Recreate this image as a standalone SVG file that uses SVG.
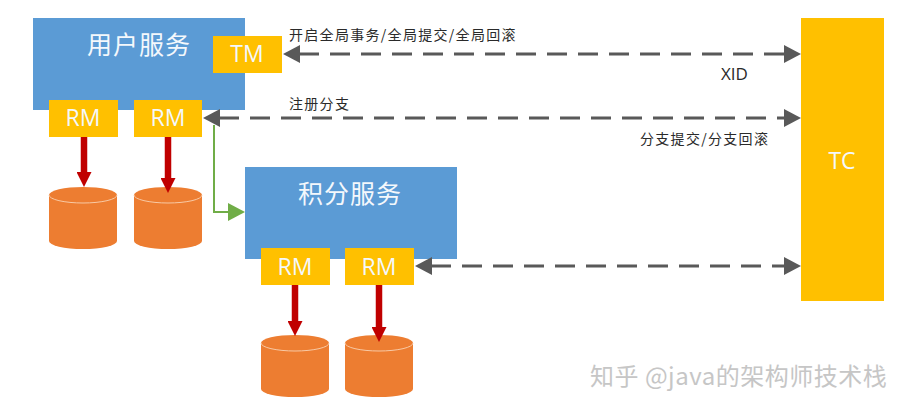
<svg xmlns="http://www.w3.org/2000/svg" width="910" height="417" viewBox="0 0 910 417">
  <style>
    text { font-family: "Noto Sans CJK SC", "Open Sans", "Noto Sans", sans-serif; }
    .svc { fill: #5b9bd5; }
    .gold { fill: #ffc000; }
    .light { fill: #f4f8fc; text-anchor: middle; }
    .title { font-size: 25px; letter-spacing: 1px; }
    .tag { font-size: 23px; font-family: "Open Sans", "Noto Sans", sans-serif; }
    .note { font-size: 14px; letter-spacing: 1.3px; fill: #2a2a2a; }
    .xid { font-size: 17px; letter-spacing: 0; font-family: "Open Sans", "Noto Sans", sans-serif; }
    .dash { fill: none; stroke: #595959; stroke-width: 3; stroke-dasharray: 20 11; }
    .red { fill: none; stroke: #c00000; stroke-width: 6.5; }
    .db { fill: #ed7d31; }
    .rim { fill: none; stroke: #f8c9a4; stroke-width: 1; }
    .mark { font-size: 24px; letter-spacing: .5px; fill: #c6c6c6; }
  </style>
  <defs>
    <marker id="head" markerUnits="userSpaceOnUse" markerWidth="17" markerHeight="18" refX="1" refY="9" orient="auto-start-reverse">
      <path d="M0 0 L17 9 L0 18 Z" fill="#595959"/>
    </marker>
    <marker id="redhead" markerUnits="userSpaceOnUse" markerWidth="15" markerHeight="15" refX="1" refY="7.5" orient="auto">
      <path d="M0 0 L15 7.5 L0 15 Z" fill="#c00000"/>
    </marker>
    <marker id="greenhead" markerUnits="userSpaceOnUse" markerWidth="17" markerHeight="18" refX="1" refY="9" orient="auto">
      <path d="M0 0 L17 9 L0 18 Z" fill="#70ad47"/>
    </marker>
    <g id="cyl">
      <path class="db" d="M0 8 A34 8 0 0 1 68 8 V54 A34 8 0 0 1 0 54 Z"/>
      <path class="rim" d="M0 8 A34 8 0 0 0 68 8"/>
    </g>
  </defs>

  <rect width="910" height="417" fill="#ffffff"/>

  <g id="user-service">
    <rect class="svc" x="33" y="18" width="212" height="92"/>
    <text class="light title" x="139" y="54">用户服务</text>
  </g>
  <g id="points-service">
    <rect class="svc" x="245" y="167" width="212" height="92"/>
    <text class="light title" x="350" y="203">积分服务</text>
  </g>
  <g id="tm">
    <rect class="gold" x="213" y="36" width="69" height="37"/>
    <text class="light tag" x="247" y="62">TM</text>
  </g>
  <g id="rm-user-1">
    <rect class="gold" x="49" y="100" width="69" height="37"/>
    <text class="light tag" x="83" y="126">RM</text>
  </g>
  <g id="rm-user-2">
    <rect class="gold" x="134" y="100" width="68" height="37"/>
    <text class="light tag" x="168" y="126">RM</text>
  </g>
  <g id="rm-points-1">
    <rect class="gold" x="261" y="248" width="69" height="37"/>
    <text class="light tag" x="295" y="275">RM</text>
  </g>
  <g id="rm-points-2">
    <rect class="gold" x="345" y="248" width="69" height="37"/>
    <text class="light tag" x="379" y="275">RM</text>
  </g>
  <g id="tc">
    <rect class="gold" x="801" y="18" width="83" height="283"/>
    <text class="light tag" x="842" y="169">TC</text>
  </g>
  <g id="db-user-1"><use href="#cyl" x="49" y="187"/></g>
  <g id="db-user-2"><use href="#cyl" x="134" y="187"/></g>
  <g id="db-points-1"><use href="#cyl" x="261" y="335"/></g>
  <g id="db-points-2"><use href="#cyl" x="345" y="335"/></g>

  <g id="connectors">
    <path class="dash" d="M299 54 H785" marker-start="url(#head)" marker-end="url(#head)"/>
    <path class="dash" d="M219 118 H785" marker-start="url(#head)" marker-end="url(#head)"/>
    <path class="dash" d="M431 266 H785" marker-start="url(#head)" marker-end="url(#head)"/>
    <path d="M214 125 V212 H229" fill="none" stroke="#70ad47" stroke-width="2" marker-end="url(#greenhead)"/>
    <path class="red" d="M84 137 V173" marker-end="url(#redhead)"/>
    <path class="red" d="M168 137 V179" marker-end="url(#redhead)"/>
    <path class="red" d="M295 285 V322" marker-end="url(#redhead)"/>
    <path class="red" d="M379 285 V328" marker-end="url(#redhead)"/>
  </g>

  <g id="labels">
    <text class="note" x="289" y="40">开启全局事务/全局提交/全局回滚</text>
    <text class="note xid" x="721" y="80">XID</text>
    <text class="note" x="289" y="109">注册分支</text>
    <text class="note" x="640" y="144">分支提交/分支回滚</text>
  </g>

  <text class="mark" x="590" y="385">知乎 @java的架构师技术栈</text>
</svg>
